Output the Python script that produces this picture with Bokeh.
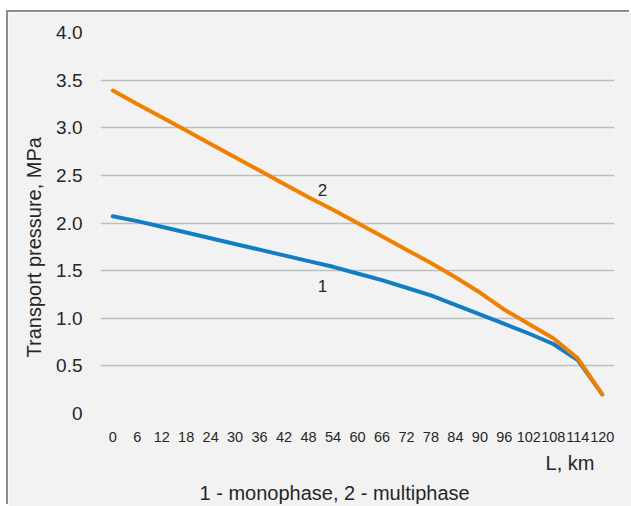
from bokeh.plotting import figure
from bokeh.models import Range1d, FixedTicker, Title
from bokeh.core.properties import value
from bokeh.embed import file_html
from bokeh.resources import INLINE

# data
distance_km = ["0", "6", "12", "18", "24", "30", "36", "42", "48", "54", "60",
               "66", "72", "78", "84", "90", "96", "102", "108", "114", "120"]
monophase = [2.07, 2.02, 1.96, 1.90, 1.84, 1.78, 1.72, 1.66, 1.60, 1.54, 1.47,
             1.40, 1.32, 1.24, 1.14, 1.04, 0.94, 0.84, 0.73, 0.56, 0.20]
multiphase = [3.39, 3.25, 3.11, 2.97, 2.83, 2.69, 2.55, 2.41, 2.27, 2.14, 2.00,
              1.86, 1.72, 1.58, 1.43, 1.27, 1.09, 0.94, 0.79, 0.58, 0.20]
y_ticks = [0, 0.5, 1.0, 1.5, 2.0, 2.5, 3.0, 3.5, 4.0]
y_tick_labels = ["0", "0.5", "1.0", "1.5", "2.0", "2.5", "3.0", "3.5", "4.0"]

FONT = "Liberation Sans"
TXT = "#262626"
BG = "#f2f2f2"
EDGE = "#8c8c8c"

idx = list(range(len(distance_km)))

p = figure(width=623, height=494, output_backend="svg", toolbar_location=None,
           x_range=Range1d(-0.5, len(distance_km) - 0.5), y_range=Range1d(0, 4.0),
           min_border_left=92, min_border_right=17, min_border_top=20, min_border_bottom=93)
p.background_fill_color = BG
p.border_fill_color = BG
p.outline_line_color = None
p.styles = {"position": "absolute", "left": "8px", "top": "12px",
            "box-shadow": "-2px -2px 0px 0px " + EDGE}

# axes
p.xaxis.ticker = FixedTicker(ticks=idx)
p.xaxis.major_label_overrides = {i: s for i, s in zip(idx, distance_km)}
p.xaxis.axis_line_color = None
p.xaxis.major_tick_line_color = None
p.xaxis.minor_tick_line_color = None
p.xaxis.major_label_standoff = 12
p.xaxis.major_label_text_font = FONT
p.xaxis.major_label_text_font_size = "14.5px"
p.xaxis.major_label_text_color = TXT

p.yaxis.ticker = FixedTicker(ticks=y_ticks)
p.yaxis.major_label_overrides = {t: s for t, s in zip(y_ticks, y_tick_labels)}
p.yaxis.axis_line_color = None
p.yaxis.major_tick_line_color = None
p.yaxis.minor_tick_line_color = None
p.yaxis.major_label_standoff = 12
p.yaxis.major_label_text_font = FONT
p.yaxis.major_label_text_font_size = "19px"
p.yaxis.major_label_text_color = TXT

p.xgrid.grid_line_color = None
p.ygrid.grid_line_color = "#bfbfbf"
p.ygrid.grid_line_width = 1.5

# y axis title (placed off-centre like the reference)
ty = Title(text="Transport pressure, MPa", align="left", offset=56, text_font=FONT,
           text_font_size="20px", text_font_style="normal", text_color=TXT, standoff=17)
p.add_layout(ty, "left")

# lines
p.line(idx, monophase, line_color="#117dc3", line_width=4, line_join="round", line_cap="round")
p.line(idx, multiphase, line_color="#f28000", line_width=4, line_join="round", line_cap="round")

# series labels
p.text(x=[8.57, 8.57], y=[2.35, 1.34], text=["2", "1"], text_align="center",
       text_baseline="middle", text_font=value(FONT), text_font_size="17px", text_color=TXT)

# bottom titles
t1 = Title(text="L, km", align="right", offset=20, text_font=FONT, text_font_size="20px",
           text_font_style="normal", text_color=TXT, standoff=11)
p.add_layout(t1, "below")
t2 = Title(text="1 - monophase, 2 - multiphase", align="left", offset=99, text_font=FONT,
           text_font_size="20px", text_font_style="normal", text_color=TXT, standoff=0)
p.add_layout(t2, "below")

open("out.html", "w").write(file_html(p, INLINE))
